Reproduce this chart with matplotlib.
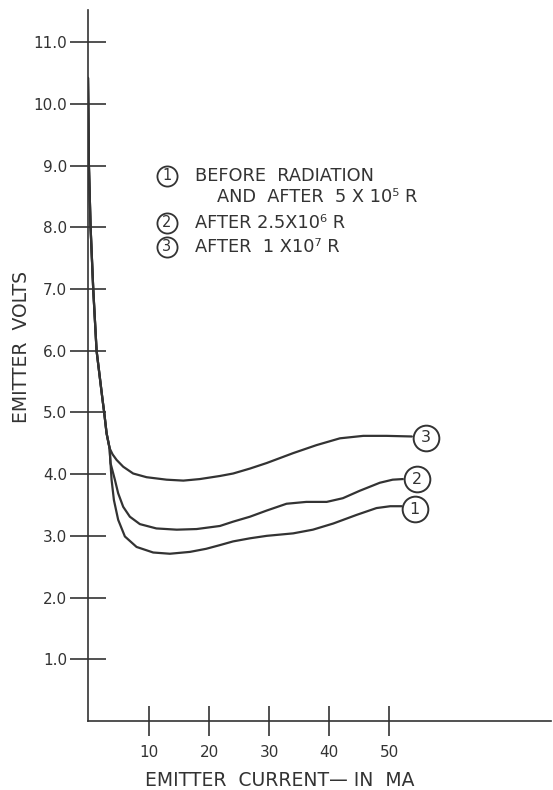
import matplotlib
matplotlib.use("Agg")
import matplotlib.pyplot as plt
from matplotlib.lines import Line2D

# ---- data ----
# steep common branch (all three curves coincide here)
shared_x = [-0.2, -0.15, -0.05, 0.23, 0.67, 1.23, 2.23, 2.5, 2.9, 3.4]
shared_y = [10.42, 10.0, 9.0, 8.0, 7.0, 6.0, 5.2, 5.0, 4.66, 4.42]

# curves 1 and 2 stay together a little longer
c12_x = [3.55]
c12_y = [4.18]

c1_x = [3.73, 4.12, 4.83, 5.95, 7.9, 10.67, 13.45, 16.8, 19.5, 21.8, 24.0, 26.8, 29.6, 34.0, 37.3, 40.7, 44.6, 47.9, 50.2, 52.1]
c1_y = [3.91, 3.58, 3.26, 2.99, 2.82, 2.73, 2.71, 2.74, 2.79, 2.85, 2.91, 2.96, 3.00, 3.04, 3.10, 3.20, 3.34, 3.45, 3.48, 3.48]

c2_x = [4.28, 4.83, 5.67, 6.78, 8.45, 11.2, 14.6, 17.9, 21.8, 24.0, 26.8, 29.6, 32.9, 36.2, 39.6, 42.3, 45.1, 48.45, 50.6, 52.3]
c2_y = [3.91, 3.69, 3.47, 3.31, 3.19, 3.12, 3.10, 3.11, 3.16, 3.23, 3.31, 3.41, 3.52, 3.55, 3.55, 3.61, 3.73, 3.86, 3.91, 3.92]

c3_x = [3.9, 4.57, 5.67, 7.33, 9.57, 12.9, 15.7, 18.45, 21.8, 24.0, 26.8, 29.6, 34.0, 37.9, 41.8, 45.7, 49.6, 53.8]
c3_y = [4.32, 4.23, 4.12, 4.01, 3.95, 3.91, 3.895, 3.92, 3.97, 4.01, 4.09, 4.18, 4.34, 4.47, 4.58, 4.62, 4.62, 4.61]

curve_labels = ["1", "2", "3"]
x_ticks = [10, 20, 30, 40, 50]
y_ticks = [1, 2, 3, 4, 5, 6, 7, 8, 9, 10, 11]
y_ticklabels = ["1.0", "2.0", "3.0", "4.0", "5.0", "6.0", "7.0", "8.0", "9.0", "10.0", "11.0"]

legend_lines = [("1", "BEFORE  RADIATION"),
                (None, "AND  AFTER  5 X 10\u2075 R"),
                ("2", "AFTER 2.5X10\u2076 R"),
                ("3", "AFTER  1 X10\u2077 R")]

INK = "#333333"
W, H = 553, 790

fig = plt.figure(figsize=(W / 100, H / 100), dpi=100)
ax = fig.add_axes([88 / W, 69 / H, 463 / W, 711 / H])
ax.set_xlim(-0.2, 77.0)
ax.set_ylim(0, 11.52)

curves = [(c12_x + c1_x, c12_y + c1_y),
          (c12_x + c2_x, c12_y + c2_y),
          (c3_x, c3_y)]
for xs, ys in curves:
    ax.plot(shared_x + xs, shared_y + ys, color=INK, lw=1.6,
            solid_capstyle="round", solid_joinstyle="round")

# circled curve labels at the curve ends
end_pos = [(54.3, 3.43), (54.6, 3.92), (56.2, 4.59)]
for lab, (ex, ey) in zip(curve_labels, end_pos):
    ax.plot([ex], [ey], marker="o", ms=18.5, mfc="white", mec=INK, mew=1.4, zorder=5)
    ax.text(ex, ey, lab, ha="center", va="center", fontsize=11.5, color=INK, zorder=6)

for s in ("top", "right"):
    ax.spines[s].set_visible(False)
for s in ("left", "bottom"):
    ax.spines[s].set_color(INK)
    ax.spines[s].set_linewidth(1.2)

ax.set_xticks(x_ticks)
ax.set_xticklabels([str(v) for v in x_ticks])
ax.set_yticks(y_ticks)
ax.set_yticklabels(y_ticklabels)
ax.tick_params(axis="y", direction="inout", length=26, width=1.2, pad=2,
               colors=INK, labelsize=11)
ax.tick_params(axis="x", direction="inout", length=21.6, width=1.2, pad=6.5,
               colors=INK, labelsize=11)

# axis titles
fig.text(280 / W, 1 - 780 / H, "EMITTER  CURRENT\u2014 IN  MA", ha="center", va="center",
         fontsize=13.5, color=INK)
fig.text(22 / W, 1 - 347 / H, "EMITTER  VOLTS", ha="center", va="center",
         rotation=90, fontsize=13.5, color=INK)

# legend block
leg_y = [176, 196.7, 222.7, 246.7]
for (num, txt), yy in zip(legend_lines, leg_y):
    if num is not None:
        fig.lines.append(Line2D([166.7 / W], [1 - yy / H], transform=fig.transFigure,
                                marker="o", ms=14.5, mfc="white", mec=INK, mew=1.3))
        fig.text(166.7 / W, 1 - yy / H, num, ha="center", va="center", fontsize=10.5, color=INK)
        fig.text(195 / W, 1 - yy / H, txt, ha="left", va="center", fontsize=12.8, color=INK)
    else:
        fig.text(216.7 / W, 1 - yy / H, txt, ha="left", va="center", fontsize=12.8, color=INK)

fig.savefig("out.png", dpi=100, facecolor="white")
